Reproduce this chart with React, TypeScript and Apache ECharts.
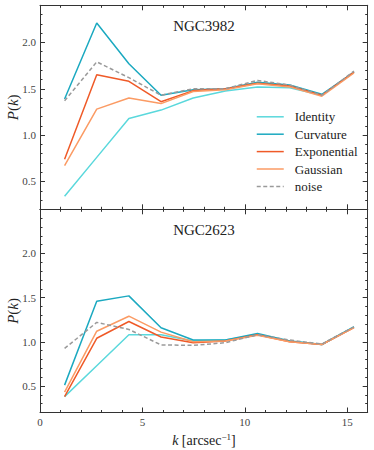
import React, { useEffect, useRef } from 'react';
import * as echarts from 'echarts';

const K = [1.2, 2.77, 4.34, 5.91, 7.48, 9.05, 10.62, 12.19, 13.76, 15.33];
const SERIES_NAMES = ['Identity', 'Curvature', 'Exponential', 'Gaussian', 'noise'];
const TITLES = ['NGC3982', 'NGC2623'];
const X_TICKS = [0, 5, 10, 15];
const Y_TICKS = [0.5, 1.0, 1.5, 2.0];
const Y_MAX = [2.4, 2.5];

const identity3982 = [0.34, 0.76, 1.18, 1.27, 1.40, 1.475, 1.52, 1.51, 1.43, 1.68];
const curvature3982 = [1.39, 2.21, 1.77, 1.43, 1.49, 1.50, 1.57, 1.54, 1.44, 1.68];
const exponential3982 = [0.74, 1.65, 1.58, 1.36, 1.48, 1.50, 1.56, 1.53, 1.43, 1.68];
const gaussian3982 = [0.67, 1.28, 1.40, 1.34, 1.47, 1.49, 1.555, 1.52, 1.42, 1.67];
const noise3982 = [1.37, 1.79, 1.62, 1.43, 1.50, 1.50, 1.59, 1.54, 1.43, 1.69];

const identity2623 = [0.38, 0.73, 1.08, 1.08, 1.01, 1.02, 1.08, 1.01, 0.97, 1.17];
const curvature2623 = [0.51, 1.46, 1.52, 1.16, 1.02, 1.02, 1.095, 1.01, 0.97, 1.17];
const exponential2623 = [0.38, 1.04, 1.23, 1.055, 0.99, 1.01, 1.08, 1.0, 0.97, 1.16];
const gaussian2623 = [0.43, 1.12, 1.29, 1.11, 1.0, 1.01, 1.075, 1.0, 0.97, 1.16];
const noise2623 = [0.925, 1.22, 1.14, 0.965, 0.96, 0.99, 1.08, 1.02, 0.975, 1.17];

const PANELS = [
  [identity3982, curvature3982, exponential3982, gaussian3982, noise3982],
  [identity2623, curvature2623, exponential2623, gaussian2623, noise2623],
];

const COLORS = ['#5ad8dc', '#1ba9c0', '#ef5a28', '#fb9b64', '#9a9a9a'];
const FONT = '"Liberation Serif", "DejaVu Serif", serif';
const FRAME = '#333333';
const LABEL_COLOR = '#444444';

const GRID_LEFT = 40;
const GRID_RIGHT = 6.3;
const GRID_TOPS = [5.3, 209.3];
const GRID_HEIGHTS = [204, 203.2];

function buildXAxes(g: number) {
  const line = { color: FRAME, width: 1 };
  const base = {
    type: 'value',
    gridIndex: g,
    min: 0,
    max: 16,
    splitLine: { show: false },
  };
  const major = (pos: string, labels: boolean) => ({
    ...base,
    position: pos,
    axisLine: { show: true, onZero: false, lineStyle: line },
    axisTick: { show: true, inside: true, length: 5, customValues: X_TICKS, lineStyle: line },
    axisLabel: {
      show: labels,
      customValues: X_TICKS,
      margin: 4,
      fontFamily: FONT,
      fontSize: 11,
      color: LABEL_COLOR,
    },
  });
  const minor = (pos: string) => ({
    ...base,
    position: pos,
    interval: 1,
    axisLine: { show: false, onZero: false },
    axisTick: { show: true, inside: true, length: 2.5, lineStyle: line },
    axisLabel: { show: false },
  });
  return [major('bottom', g === 1), minor('bottom'), major('top', false), minor('top')];
}

function buildYAxes(g: number) {
  const line = { color: FRAME, width: 1 };
  const base = {
    type: 'value',
    gridIndex: g,
    min: 0.2,
    max: Y_MAX[g],
    splitLine: { show: false },
  };
  const major = (pos: string, labels: boolean) => ({
    ...base,
    position: pos,
    axisLine: { show: true, onZero: false, lineStyle: line },
    axisTick: { show: true, inside: true, length: 5, customValues: Y_TICKS, lineStyle: line },
    axisLabel: {
      show: labels,
      customValues: Y_TICKS,
      margin: 4,
      fontFamily: FONT,
      fontSize: 11,
      color: LABEL_COLOR,
      formatter: (v: number) => v.toFixed(1),
    },
  });
  const minor = (pos: string) => ({
    ...base,
    position: pos,
    interval: 0.1,
    axisLine: { show: false, onZero: false },
    axisTick: { show: true, inside: true, length: 2.5, lineStyle: line },
    axisLabel: { show: false },
  });
  return [major('left', true), minor('left'), major('right', false), minor('right')];
}

export default function App() {
  const ref = useRef<HTMLDivElement>(null);

  useEffect(() => {
    if (!ref.current) return;
    const chart = echarts.init(ref.current, undefined, { renderer: 'svg' });

    const series: any[] = [];
    PANELS.forEach((panel, g) => {
      panel.forEach((vals, s) => {
        series.push({
          type: 'line',
          name: SERIES_NAMES[s],
          xAxisIndex: 4 * g,
          yAxisIndex: 4 * g,
          data: K.map((k, i) => [k, vals[i]]),
          symbol: 'none',
          silent: true,
          color: COLORS[s],
          lineStyle: {
            color: COLORS[s],
            width: 1.5,
            type: s === 4 ? [4, 2.5] : 'solid',
          },
          itemStyle: { color: COLORS[s] },
        });
      });
    });

    const graphic: any[] = [];
    TITLES.forEach((t, g) => {
      graphic.push({
        type: 'text',
        x: 204,
        y: GRID_TOPS[g] + 21,
        style: {
          text: t,
          font: `15px ${FONT}`,
          fill: '#222',
          textAlign: 'center',
          textVerticalAlign: 'middle',
          align: 'center',
          verticalAlign: 'middle',
        },
      });
      graphic.push({
        type: 'text',
        x: 13,
        y: GRID_TOPS[g] + GRID_HEIGHTS[g] / 2,
        rotation: Math.PI / 2,
        style: {
          text: '{i|P}{n|(}{i|k}{n|)}',
          textAlign: 'center',
          textVerticalAlign: 'middle',
          align: 'center',
          verticalAlign: 'middle',
          fill: '#222',
          rich: {
            i: { fontFamily: FONT, fontSize: 15, fontStyle: 'italic', fill: '#222' },
            n: { fontFamily: FONT, fontSize: 15, fill: '#222' },
          },
        },
      });
    });
    graphic.push({
      type: 'text',
      x: 204,
      y: 440,
      style: {
        text: '{i|k} {n|[arcsec}{s|−1}{n|]}',
        textAlign: 'center',
        textVerticalAlign: 'middle',
        align: 'center',
        verticalAlign: 'middle',
        fill: '#222',
        rich: {
          i: { fontFamily: FONT, fontSize: 14, fontStyle: 'italic', fill: '#222', lineHeight: 16 },
          n: { fontFamily: FONT, fontSize: 14, fill: '#222', lineHeight: 16 },
          s: { fontFamily: FONT, fontSize: 9, fill: '#222', verticalAlign: 'top', lineHeight: 16 },
        },
      },
    });

    chart.setOption({
      animation: false,
      backgroundColor: '#ffffff',
      grid: GRID_TOPS.map((top, g) => ({
        left: GRID_LEFT,
        right: GRID_RIGHT,
        top,
        height: GRID_HEIGHTS[g],
        containLabel: false,
      })),
      xAxis: [...buildXAxes(0), ...buildXAxes(1)],
      yAxis: [...buildYAxes(0), ...buildYAxes(1)],
      legend: {
        data: SERIES_NAMES,
        orient: 'vertical',
        left: 256,
        top: 110.3,
        padding: 0,
        itemWidth: 27,
        itemHeight: 14,
        itemGap: 4.4,
        selectedMode: false,
        itemStyle: { opacity: 0, color: 'rgba(0,0,0,0)', borderWidth: 0 },
        lineStyle: { width: 1.5 },
        textStyle: {
          fontFamily: FONT,
          fontSize: 13,
          color: '#222',
          padding: [0, 0, 0, 6],
        },
      },
      graphic,
      series,
    });

    return () => chart.dispose();
  }, []);

  return (
    <div
      ref={ref}
      style={{ position: 'fixed', left: 0, top: 0, width: 374, height: 450, background: '#fff' }}
    />
  );
}
